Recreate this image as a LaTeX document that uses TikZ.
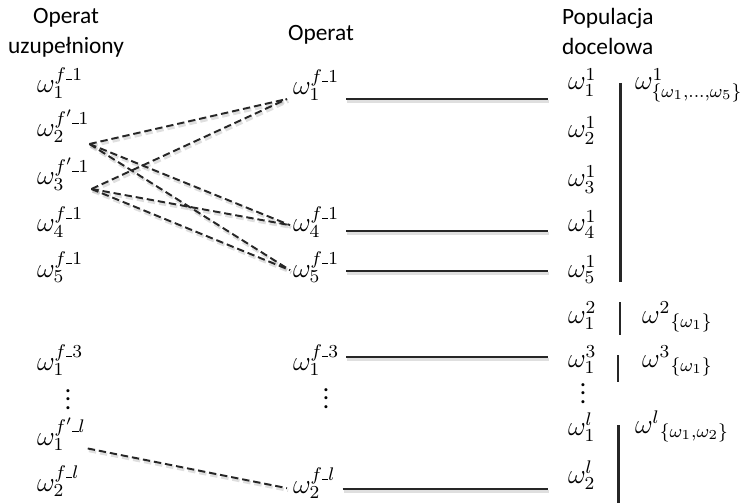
\documentclass[tikz,border=0pt]{standalone}
\usepackage{fontspec}
\setmainfont{Carlito}
\usetikzlibrary{calc}

% short underscore inside the frame superscripts
\newcommand{\usc}{\rule[-0.2pt]{2.8pt}{0.55pt}}

\begin{document}
\begin{tikzpicture}[x=0.02cm,y=-0.02cm,
  every node/.style={inner sep=0pt, outer sep=0pt},
  head/.style={font=\fontsize{13.3}{17}\selectfont},
  om/.style={anchor=base west, scale=1.3, font=\fontsize{12}{14}\selectfont},
  vd/.style={scale=1.2, font=\fontsize{12}{14}\selectfont},
  link/.style={line width=1.1pt, black!85},
  dlink/.style={link, dash pattern=on 4.2pt off 2.2pt},
  shade/.style={line width=1.8pt, gray!55, opacity=0.45},
  dshade/.style={shade, dash pattern=on 4.2pt off 2.2pt},
  bar/.style={line width=1.7pt, black!85},
  thinbar/.style={line width=1.1pt, black!85}]

\useasboundingbox (0,0) rectangle (750,503);

% column headings
\node[head, align=center, anchor=north] (hl) at (66,8) {Operat\\uzupełniony};
\node[head, anchor=base] (hm) at (321,41) {Operat};
\node[head, align=left, anchor=north west] (hr) at (562,8) {Populacja\\docelowa};

% supplemented frame
\node[om] (l1) at (37,93)  {$\omega_1^{f\usc1}$};
\node[om] (l2) at (37,137) {$\omega_2^{f'\usc1}$};
\node[om] (l3) at (37,185) {$\omega_3^{f'\usc1}$};
\node[om] (l4) at (37,232) {$\omega_4^{f\usc1}$};
\node[om] (l5) at (37,277) {$\omega_5^{f\usc1}$};
\node[om] (l6) at (37,370) {$\omega_1^{f\usc3}$};
\node[vd] (ld) at (68,393) {$\vdots$};
\node[om] (l7) at (37,445) {$\omega_1^{f'\usc l}$};
\node[om] (l8) at (37,491) {$\omega_2^{f\usc l}$};

% frame
\node[om] (m1) at (293,95)  {$\omega_1^{f\usc1}$};
\node[om] (m4) at (293,232) {$\omega_4^{f\usc1}$};
\node[om] (m5) at (293,277) {$\omega_5^{f\usc1}$};
\node[om] (m6) at (293,370) {$\omega_1^{f\usc3}$};
\node[vd] (md) at (326,392) {$\vdots$};
\node[om] (m8) at (293,493) {$\omega_2^{f\usc l}$};

% target population
\node[om] (r1) at (568,90)  {$\omega_1^{1}$};
\node[om] (r2) at (568,138) {$\omega_2^{1}$};
\node[om] (r3) at (568,187) {$\omega_3^{1}$};
\node[om] (r4) at (568,232) {$\omega_4^{1}$};
\node[om] (r5) at (568,277) {$\omega_5^{1}$};
\node[om] (r6) at (568,323) {$\omega_1^{2}$};
\node[om] (r7) at (568,367) {$\omega_1^{3}$};
\node[vd] (rd) at (583,387) {$\vdots$};
\node[om] (r8) at (568,435) {$\omega_1^{l}$};
\node[om] (r9) at (568,483) {$\omega_2^{l}$};

% groups
\node[om] (g1) at (635,90)  {$\omega^{1}_{\{\omega_1,\ldots,\omega_5\}}$};
\node[om] (g2) at (642,323) {${\omega^{2}}_{\{\omega_1\}}$};
\node[om] (g3) at (642,367) {${\omega^{3}}_{\{\omega_1\}}$};
\node[om] (g4) at (635,433) {${\omega^{l}}_{\{\omega_1,\omega_2\}}$};

% group brackets
\coordinate (b1t) at (620,83);  \coordinate (b1b) at (620,282);
\coordinate (b2t) at (620,302); \coordinate (b2b) at (620,335);
\coordinate (b3t) at (618,355); \coordinate (b3b) at (618,382);
\coordinate (b4t) at (618,425); \coordinate (b4b) at (618,503);
\draw[bar] (b1t) -- (b1b);
\draw[thinbar] (b2t) -- (b2b);
\draw[thinbar] (b3t) -- (b3b);
\draw[bar] (b4t) -- (b4b);

% dashed connector ends
\coordinate (a2) at ($(l2.south east)+(0,1)$);
\coordinate (a3) at ($(l3.south east)+(2,-2)$);
\coordinate (a7) at ($(l7.east)+(2,14)$);
\coordinate (e1) at ($(m1.south west)+(-6,-2)$);
\coordinate (e4) at ($(m4.west)+(-3,3)$);
\coordinate (e5) at ($(m5.west)+(-3,3)$);
\coordinate (e8) at ($(m8.west)+(-6,5)$);

\foreach \s/\t in {a2/e1,a3/e1,a2/e4,a2/e5,a3/e4,a3/e5,a7/e8}
  \draw[dshade] ($(\s)+(1.2,2.2)$) -- ($(\t)+(1.2,2.2)$);
\foreach \s/\t in {a2/e1,a3/e1,a2/e4,a2/e5,a3/e4,a3/e5,a7/e8}
  \draw[dlink] (\s) -- (\t);

% solid connectors frame -> population
\foreach \m/\r/\dy in {m1/r1/4, m4/r4/-1, m5/r5/-6, m6/r7/-13, m8/r9/-4} {
  \coordinate (s-\m) at ($(\m.base east)+(7,\dy)$);
  \coordinate (t-\m) at ($(\m.base east -| \r.west)+(-20,\dy)$);
  \draw[shade] ($(s-\m)+(1.2,2.2)$) -- ($(t-\m)+(1.2,2.2)$);
  \draw[link] (s-\m) -- (t-\m);
}
\end{tikzpicture}
\end{document}
